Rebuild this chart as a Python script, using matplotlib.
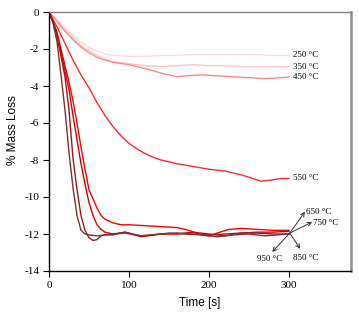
import matplotlib
matplotlib.use("Agg")
import matplotlib.pyplot as plt

# ---- data ----
t_250 = [0, 10, 20, 30, 40, 50, 60, 70, 80, 100, 120, 140, 160, 180, 200, 220, 240, 260, 280, 300]
v_250 = [0, -0.4, -0.85, -1.25, -1.6, -1.9, -2.1, -2.25, -2.35, -2.4, -2.4, -2.35, -2.35, -2.3, -2.3, -2.3, -2.3, -2.3, -2.35, -2.35]

t_350 = [0, 10, 20, 30, 40, 50, 60, 70, 80, 100, 120, 140, 160, 180, 200, 220, 240, 260, 280, 300]
v_350 = [0, -0.45, -0.95, -1.4, -1.8, -2.1, -2.35, -2.55, -2.68, -2.8, -2.9, -2.95, -2.9, -2.85, -2.9, -2.9, -2.95, -2.95, -2.95, -2.95]

t_450 = [0, 10, 20, 30, 40, 50, 60, 70, 80, 100, 120, 140, 160, 170, 190, 210, 230, 250, 270, 290, 300]
v_450 = [0, -0.5, -1.05, -1.5, -1.9, -2.2, -2.45, -2.6, -2.72, -2.85, -3.05, -3.3, -3.5, -3.45, -3.4, -3.45, -3.5, -3.55, -3.6, -3.55, -3.5]

t_550 = [0, 10, 20, 30, 40, 50, 60, 70, 80, 90, 100, 110, 120, 130, 140, 150, 160, 180, 200, 220, 240, 255, 265, 275, 290, 300]
v_550 = [0, -0.8, -1.7, -2.6, -3.4, -4.1, -4.9, -5.6, -6.2, -6.7, -7.1, -7.4, -7.65, -7.85, -8.0, -8.1, -8.2, -8.35, -8.5, -8.6, -8.8, -9.0, -9.15, -9.1, -9.0, -9.0]

t_650 = [0, 5, 10, 15, 20, 25, 30, 35, 40, 45, 50, 55, 60, 65, 70, 80, 90, 100, 120, 140, 160, 175, 190, 200, 210, 225, 240, 260, 280, 300]
v_650 = [0, -0.5, -1.1, -2.0, -2.9, -3.8, -4.8, -6.0, -7.3, -8.5, -9.6, -10.1, -10.6, -11.0, -11.2, -11.4, -11.5, -11.5, -11.55, -11.6, -11.65, -11.8, -12.05, -12.1, -11.95, -11.75, -11.7, -11.75, -11.8, -11.8]

t_750 = [0, 5, 10, 15, 20, 25, 30, 35, 40, 45, 50, 55, 60, 65, 70, 80, 95, 115, 140, 160, 180, 200, 220, 240, 260, 280, 300]
v_750 = [0, -0.5, -1.2, -2.2, -3.2, -4.2, -5.6, -6.9, -8.2, -9.3, -10.3, -11.0, -11.5, -11.75, -11.9, -12.0, -11.9, -12.15, -12.0, -12.0, -11.9, -12.0, -12.1, -11.95, -11.9, -11.9, -11.85]

t_850 = [0, 5, 10, 15, 20, 25, 30, 35, 40, 45, 50, 55, 60, 65, 70, 80, 95, 115, 140, 160, 180, 200, 220, 240, 260, 280, 300]
v_850 = [0, -0.5, -1.3, -2.4, -3.5, -5.3, -7.9, -9.6, -11.0, -11.8, -12.2, -12.35, -12.3, -12.1, -12.05, -12.0, -11.95, -12.1, -12.0, -11.95, -12.0, -12.05, -12.0, -11.95, -11.95, -12.0, -12.0]

t_950 = [0, 5, 10, 15, 20, 25, 30, 35, 40, 45, 50, 60, 70, 80, 95, 115, 130, 150, 170, 190, 210, 230, 250, 270, 300]
v_950 = [0, -0.6, -1.6, -3.4, -5.3, -7.6, -9.5, -11.0, -11.8, -12.0, -12.05, -12.1, -12.05, -12.05, -11.9, -12.1, -12.05, -11.95, -12.0, -12.05, -12.15, -12.05, -12.0, -12.1, -12.0]

labels = ["250 °C", "350 °C", "450 °C", "550 °C", "650 °C", "750 °C", "850 °C", "950 °C"]
colors = ["#ffdcdc", "#ffc4c4", "#ff8a8a", "#ff2a2a", "#ff0000", "#d80000", "#a01818", "#7a3434"]

series = [(t_250, v_250), (t_350, v_350), (t_450, v_450), (t_550, v_550),
          (t_650, v_650), (t_750, v_750), (t_850, v_850), (t_950, v_950)]

xticks = [0, 100, 200, 300]
yticks = [0, -2, -4, -6, -8, -10, -12, -14]

# ---- figure ----
fig = plt.figure(figsize=(3.59, 3.18), dpi=100)
ax = fig.add_axes([49/359, 1-271/318, (351-49)/359, (271-12)/318])

for (t, v), c in zip(series, colors):
    ax.plot(t, v, color=c, lw=1.0, solid_joinstyle="round")

ax.set_xlim(0, 377.5)
ax.set_ylim(-14, 0)
ax.set_xticks(xticks)
ax.set_yticks(yticks)
ax.set_xticklabels([str(x) for x in xticks], family="Liberation Serif", fontsize=8)
ax.set_yticklabels([str(y) for y in yticks], family="Liberation Serif", fontsize=8)
ax.tick_params(direction="out", length=4, width=0.8, color="black", pad=3)

for s in ["left", "bottom"]:
    ax.spines[s].set_color("black")
    ax.spines[s].set_linewidth(1.0)
ax.spines["top"].set_color("#808080")
ax.spines["top"].set_linewidth(1.0)
ax.spines["right"].set_color("#909090")
ax.spines["right"].set_linewidth(1.8)

ax.set_xlabel("Time [s]", family="Liberation Sans", fontsize=8.5, labelpad=5)
ax.set_ylabel("% Mass Loss", family="Liberation Sans", fontsize=8.5, labelpad=4)
ax.yaxis.label.set_y(0.545)

# right-side labels for slow series
ann_font = dict(family="Liberation Serif", fontsize=6.5, va="center", ha="left")
for lab, v in zip(labels[:4], [v_250[-1], v_350[-1], v_450[-1], v_550[-1]]):
    ax.text(305, v, lab, **ann_font)

# arrows for fast series
origin = (301, -11.95)
tips = {"650 °C": (320, -10.8), "750 °C": (329, -11.35),
        "850 °C": (314, -12.8), "950 °C": (279, -12.97)}
txtpos = {"650 °C": (321, -10.8), "750 °C": (330, -11.4),
          "850 °C": (305, -13.3), "950 °C": (260, -13.35)}
for lab in labels[4:]:
    ax.annotate("", xy=tips[lab], xytext=origin,
                arrowprops=dict(arrowstyle="->", color="#333333", lw=0.7,
                                shrinkA=0, shrinkB=0, mutation_scale=7))
    ax.text(*txtpos[lab], lab, **ann_font)

fig.savefig("out.png", dpi=100)
